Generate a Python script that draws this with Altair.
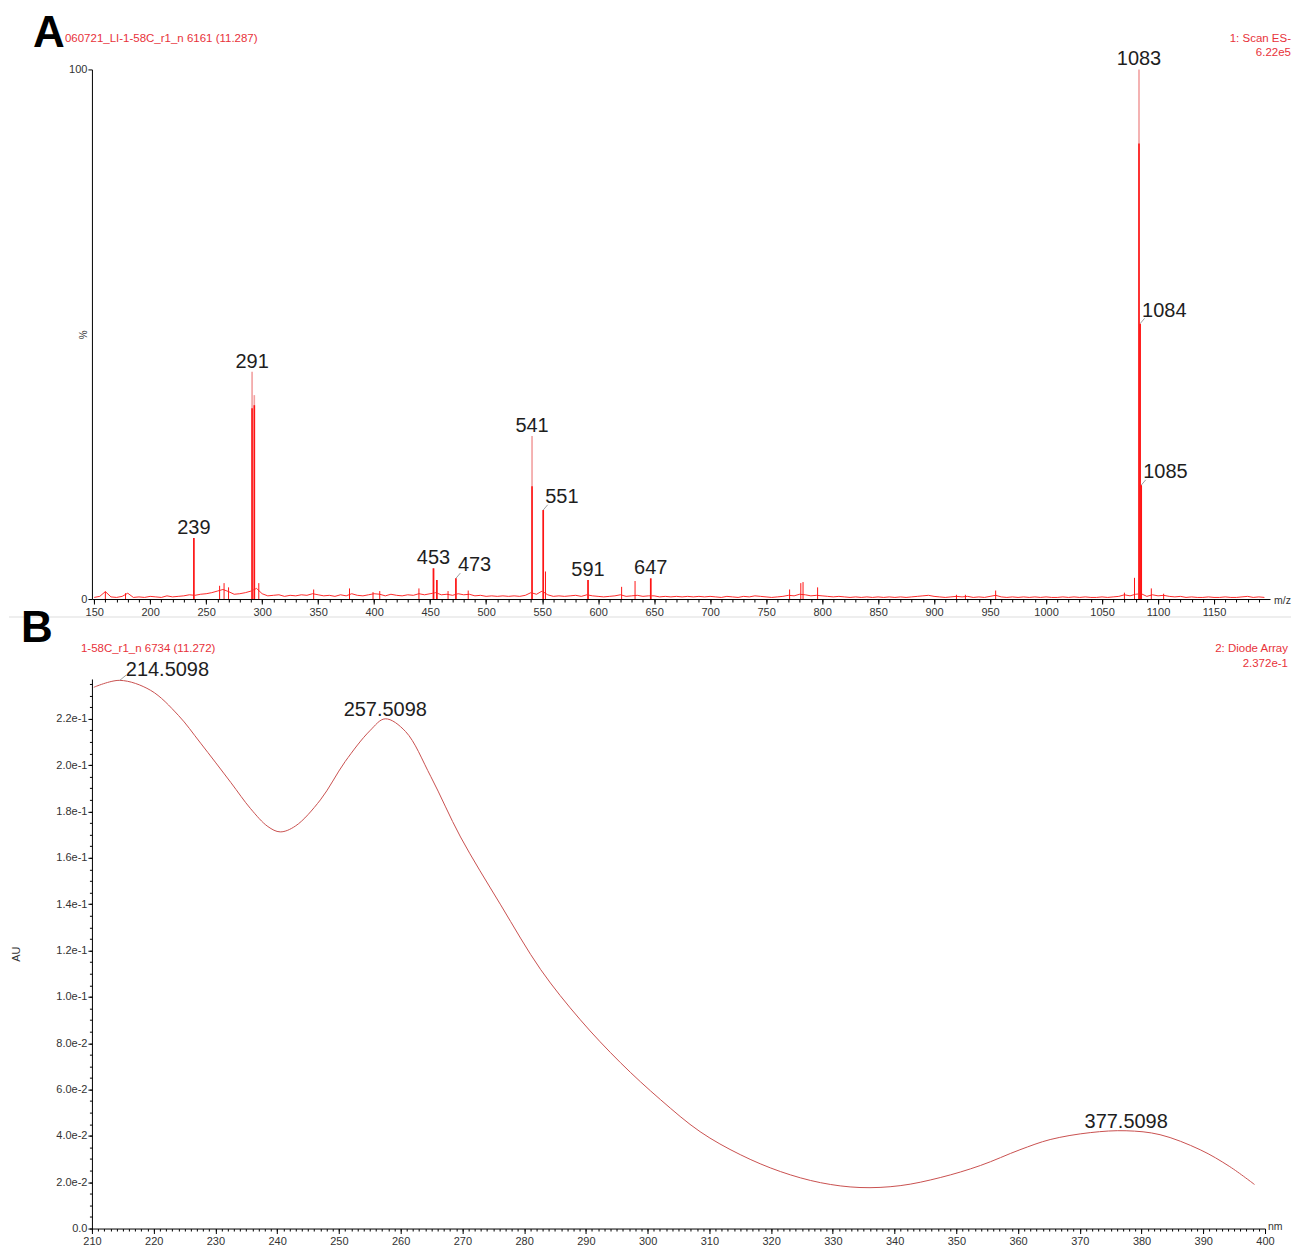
import altair as alt
import pandas as pd

FONT = "Liberation Sans"
RED = "#ff1414"
PINK = "#f2a0a0"
HDR = "#e8323a"
TXT = "#1e1e1e"

# ---------------- Panel A : mass spectrum (ES-) ----------------
noise_mz = list(range(150, 1200, 5))
noise_int = [
    0.3, 0.5, 1.4, 0.4, 0.3, 0.5, 1.1, 0.3, 0.4, 0.3,
    0.5, 0.4, 0.3, 0.6, 0.4, 0.5, 0.6, 0.8, 0.7, 0.9,
    1.0, 1.2, 1.5, 1.8, 1.4, 0.9, 1.0, 1.2, 1.5, 2.0,
    1.0, 0.6, 0.7, 0.8, 0.5, 0.7, 0.6, 0.8, 0.7, 1.0,
    0.8, 0.6, 0.7, 0.5, 0.8, 0.6, 1.0, 0.7, 0.6, 0.8,
    1.0, 0.9, 0.6, 0.9, 0.7, 0.6, 0.8, 0.7, 1.0, 0.8,
    1.0, 1.2, 0.8, 0.9, 0.7, 1.0, 0.8, 0.9, 0.6, 0.7,
    0.5, 0.6, 0.5, 0.6, 0.5, 0.6, 0.5, 0.7, 1.2, 0.9,
    1.5, 0.8, 0.5, 0.6, 0.5, 0.6, 0.7, 0.5, 0.8, 0.6,
    0.5, 0.4, 0.5, 0.6, 0.8, 0.5, 0.6, 0.7, 0.5, 0.6,
    0.6, 0.4, 0.5, 0.4, 0.5, 0.4, 0.5, 0.4, 0.5, 0.4,
    0.5, 0.4, 0.3, 0.5, 0.4, 0.3, 0.5, 0.4, 0.6, 0.5,
    0.4, 0.3, 0.4, 0.5, 0.7, 0.6, 0.9, 0.8, 0.6, 0.7,
    0.6, 0.5, 0.4, 0.5, 0.4, 0.3, 0.4, 0.3, 0.4, 0.3,
    0.4, 0.3, 0.4, 0.3, 0.4, 0.3, 0.4, 0.5, 0.6, 0.7,
    0.5, 0.4, 0.3, 0.4, 0.5, 0.4, 0.5, 0.3, 0.4, 0.3,
    0.5, 0.7, 0.4, 0.3, 0.4, 0.3, 0.4, 0.3, 0.4, 0.3,
    0.4, 0.3, 0.3, 0.4, 0.3, 0.4, 0.3, 0.4, 0.3, 0.3,
    0.4, 0.3, 0.4, 0.5, 0.8, 0.6, 0.9, 1.0, 0.5, 0.8,
    0.6, 0.7, 0.5, 0.4, 0.5, 0.3, 0.4, 0.3, 0.3, 0.4,
    0.3, 0.3, 0.4, 0.3, 0.3, 0.4, 0.5, 0.3, 0.4, 0.3,
]

small_mz = [160, 178, 262, 266, 270, 297, 346, 378, 399, 405, 440, 466, 484,
            553, 621, 633, 771, 781, 783, 796, 920, 928, 955, 1070, 1079, 1094, 1105]
small_int = [1.4, 1.1, 2.5, 3.0, 2.2, 3.0, 1.8, 2.0, 1.3, 1.5, 2.0, 1.5, 1.6,
             5.2, 2.3, 3.4, 1.8, 3.0, 3.2, 2.2, 0.8, 0.8, 1.6, 1.2, 4.0, 2.0, 1.0]

peak_mz = [239, 291, 293, 453, 456, 473, 541, 551, 591, 647, 1083, 1084, 1085]
peak_outer = [11.5, 42.9, 38.5, 5.8, 3.6, 3.9, 30.8, 16.8, 3.6, 3.9, 100, 52, 21.5]
peak_inner = [11.5, 36.0, 36.6, 5.8, 3.6, 3.9, 21.3, 16.8, 3.6, 3.9, 86, 52, 21.5]

label_center = [239, 291, 453, 541, 591, 647, 1083]
label_right = [473, 551, 1084, 1085]

# ---------------- Panel B : diode array UV spectrum ----------------
wl = [210.3, 214.5, 219.5, 224.0, 227.6, 232.5, 235.7, 238.5, 240.5, 243.0, 247.0,
      251.0, 255.0, 257.5, 260.8, 264.9, 269.7, 276.2, 282.7, 289.1, 295.6, 302.1,
      308.5, 315.0, 321.5, 328.0, 334.4, 340.9, 347.4, 353.9, 360.3, 365.2, 371.7,
      377.5, 383.0, 389.5, 394.3, 398.3]
au = [0.2336, 0.2366, 0.2323, 0.2215, 0.2095, 0.1925, 0.1812, 0.1735, 0.1712, 0.1738,
      0.1850, 0.2015, 0.2148, 0.2200, 0.2145, 0.1950, 0.1690, 0.1397, 0.1117, 0.0901,
      0.0716, 0.0556, 0.0418, 0.0319, 0.0246, 0.0198, 0.0177, 0.0185, 0.0220, 0.0272,
      0.0340, 0.0384, 0.0414, 0.0422, 0.0405, 0.0340, 0.0267, 0.0190]

uv_label_wl = [214.5098, 257.5098, 377.5098]
uv_label_au = [0.2366, 0.2200, 0.0422]
uv_label_text = ["214.5098", "257.5098", "377.5098"]

xA_ticks = list(range(150, 1151, 50))
xA_minor = list(range(150, 1200, 10))
xB_ticks = list(range(210, 401, 10))
xB_minor = list(range(210, 401, 1))
yB_ticks = [0, 0.02, 0.04, 0.06, 0.08, 0.10, 0.12, 0.14, 0.16, 0.18, 0.20, 0.22]
yB_minor = [round(i * 0.005, 3) for i in range(48)]

# ---------------- build ----------------
WA, HA = 1179, 530
WB, HB = 1174, 550

dfN = pd.DataFrame({"mz": noise_mz, "v": noise_int})
dfS = pd.DataFrame({"mz": small_mz, "v": small_int})
dfP = pd.DataFrame({"mz": peak_mz, "outer": peak_outer, "inner": peak_inner})
dfP["label"] = dfP["mz"].astype(str)
dfLC = dfP[dfP["mz"].isin(label_center)]
dfLR = dfP[dfP["mz"].isin(label_right)]

axis_common = dict(labelFont=FONT, labelFontSize=11, labelColor="#333333",
                   domainColor="#000000", tickColor="#000000", grid=False)

xsA = alt.Scale(domain=[148, 1200], nice=False, zero=False)
ysA = alt.Scale(domain=[0, 100], nice=False)

xA_major = alt.Axis(values=xA_ticks, title=None, orient="bottom", tickSize=5,
                    labelPadding=2, labelFlush=False, format="d", **axis_common)
xA_min = alt.Axis(values=xA_minor, title=None, orient="bottom", tickSize=3,
                  labels=False, domain=False, grid=False, tickColor="#000000")
yA_axis = alt.Axis(values=[0, 100], title="%", titleX=-3, titleY=HA / 2, orient="left",
                   titleFont=FONT, titleFontSize=10, titleFontWeight="normal",
                   titleColor="#333333", tickSize=4, labelPadding=1, **axis_common)


def xa(field="mz", axis=None):
    return alt.X(f"{field}:Q", scale=xsA, axis=axis)


def ya(field, axis=None):
    return alt.Y(f"{field}:Q", scale=ysA, axis=axis)


noiseA = alt.Chart(dfN).mark_line(color=RED, strokeWidth=0.9).encode(
    x=xa(axis=xA_major), y=ya("v", yA_axis))
minorA = alt.Chart(dfN).mark_line(opacity=0).encode(x=xa(axis=xA_min), y=ya("v"))
smallA = alt.Chart(dfS).mark_rule(color=RED, strokeWidth=1).encode(
    x=xa(), y=ya("v"), y2=alt.datum(0))
outerA = alt.Chart(dfP).mark_rule(color=PINK, strokeWidth=1.6).encode(
    x=xa(), y=ya("outer"), y2=alt.datum(0))
innerA = alt.Chart(dfP).mark_rule(color=RED, strokeWidth=1.6).encode(
    x=xa(), y=ya("inner"), y2=alt.datum(0))
labCA = alt.Chart(dfLC).mark_text(font=FONT, fontSize=20, color=TXT, align="center",
                                  baseline="alphabetic", dy=-4).encode(
    x=xa(), y=ya("outer"), text="label:N")
labRA = alt.Chart(dfLR).mark_text(font=FONT, fontSize=20, color=TXT, align="left",
                                  baseline="alphabetic", dx=2, dy=-7).encode(
    x=xa(), y=ya("outer"), text="label:N")
leadA = alt.Chart(dfLR).transform_calculate(
    mz2="datum.mz + 4", v2="datum.outer + 1").mark_rule(
    color="#888888", strokeWidth=0.8).encode(
    x=xa(), y=ya("outer"), x2="mz2:Q", y2="v2:Q")


def txt(s, x, y, size=11.5, color=HDR, align="left", bold=False):
    return alt.Chart(pd.DataFrame({"a": [0]})).mark_text(
        text=s, font=FONT, fontSize=size, color=color, align=align,
        baseline="alphabetic", fontWeight="bold" if bold else "normal").encode(
        x=alt.value(x), y=alt.value(y))


anchorA = alt.Chart(pd.DataFrame({"a": [0]})).mark_rule(strokeOpacity=0).encode(
    x=alt.value(0), x2=alt.value(50), y=alt.value(-61))

panelA = alt.layer(
    anchorA, noiseA, minorA, smallA, outerA, innerA, leadA, labCA, labRA,
    txt("A", -59, -22, size=44, color="#000000", bold=True),
    txt("060721_LI-1-58C_r1_n 6161 (11.287)", -27, -27),
    txt("1: Scan ES-", 1200, -27, align="right"),
    txt("6.22e5", 1200, -13, align="right"),
    txt("m/z", WA + 4, HA + 5, size=10.5, color="#333333"),
).resolve_axis(x="independent", y="independent").properties(width=WA, height=HA)

# panel B
dfU = pd.DataFrame({"wl": wl, "au": au})
dfUL = pd.DataFrame({"wl": uv_label_wl, "au": uv_label_au, "label": uv_label_text})

xsB = alt.Scale(domain=[210, 400], nice=False, zero=False)
ysB = alt.Scale(domain=[0, 0.2372], nice=False)

xB_major = alt.Axis(values=xB_ticks, title=None, orient="bottom", tickSize=5,
                    labelPadding=2, labelFlush=False, **axis_common)
xB_min = alt.Axis(values=xB_minor, title=None, orient="bottom", tickSize=2.5,
                  labels=False, domain=False, grid=False, tickColor="#000000")
yB_major = alt.Axis(values=yB_ticks, title="AU", titleX=-70, titleY=HB / 2, orient="left",
                    titleFont=FONT, titleFontSize=11, titleFontWeight="normal",
                    titleColor="#333333", tickSize=4, labelPadding=1,
                    labelExpr="datum.value == 0 ? '0.0' : format(datum.value, '.1e')",
                    **axis_common)
yB_min = alt.Axis(values=yB_minor, title=None, orient="left", tickSize=2.5, labels=False,
                  domain=False, grid=False, tickColor="#000000")


def xb(axis=None):
    return alt.X("wl:Q", scale=xsB, axis=axis)


def yb(axis=None):
    return alt.Y("au:Q", scale=ysB, axis=axis)


lineB = alt.Chart(dfU).mark_line(color="#c9504f", strokeWidth=1,
                                 interpolate="catmull-rom").encode(
    x=xb(xB_major), y=yb(yB_major))
minorB = alt.Chart(dfU).mark_line(opacity=0).encode(x=xb(xB_min), y=yb(yB_min))
labB1 = alt.Chart(dfUL.iloc[[0]]).mark_text(font=FONT, fontSize=20, color=TXT,
                                            align="left", baseline="alphabetic",
                                            dx=6, dy=-4).encode(
    x=xb(), y=yb(), text="label:N")
labB2 = alt.Chart(dfUL.iloc[[1, 2]]).mark_text(font=FONT, fontSize=20, color=TXT,
                                               align="center", baseline="alphabetic",
                                               dy=-3).encode(
    x=xb(), y=yb(), text="label:N")
leadB = alt.Chart(dfUL.iloc[[0]]).transform_calculate(
    wl2="datum.wl + 1", au2="datum.au + 0.0022").mark_rule(
    color="#888888", strokeWidth=0.8).encode(x=xb(), y=yb(), x2="wl2:Q", y2="au2:Q")

sepB = alt.Chart(pd.DataFrame({"a": [0]})).mark_rule(color="#dddddd", strokeWidth=1).encode(
    x=alt.value(-83), x2=alt.value(1200), y=alt.value(-62))

panelB = alt.layer(
    sepB, lineB, minorB, leadB, labB1, labB2,
    txt("B", -71, -37, size=44, color="#000000", bold=True),
    txt("1-58C_r1_n 6734 (11.272)", -11, -27),
    txt("2: Diode Array", 1197, -27, align="right"),
    txt("2.372e-1", 1197, -12, align="right"),
    txt("nm", WB + 3, HB + 1, size=10.5, color="#333333"),
).resolve_axis(x="independent", y="independent").properties(width=WB, height=HB)

chart = alt.vconcat(panelA, panelB, spacing=80, bounds="flush").properties(
    padding=0, background="white").configure_view(stroke=None)

chart.save("out.html", embed_options={"renderer": "svg", "actions": False})
